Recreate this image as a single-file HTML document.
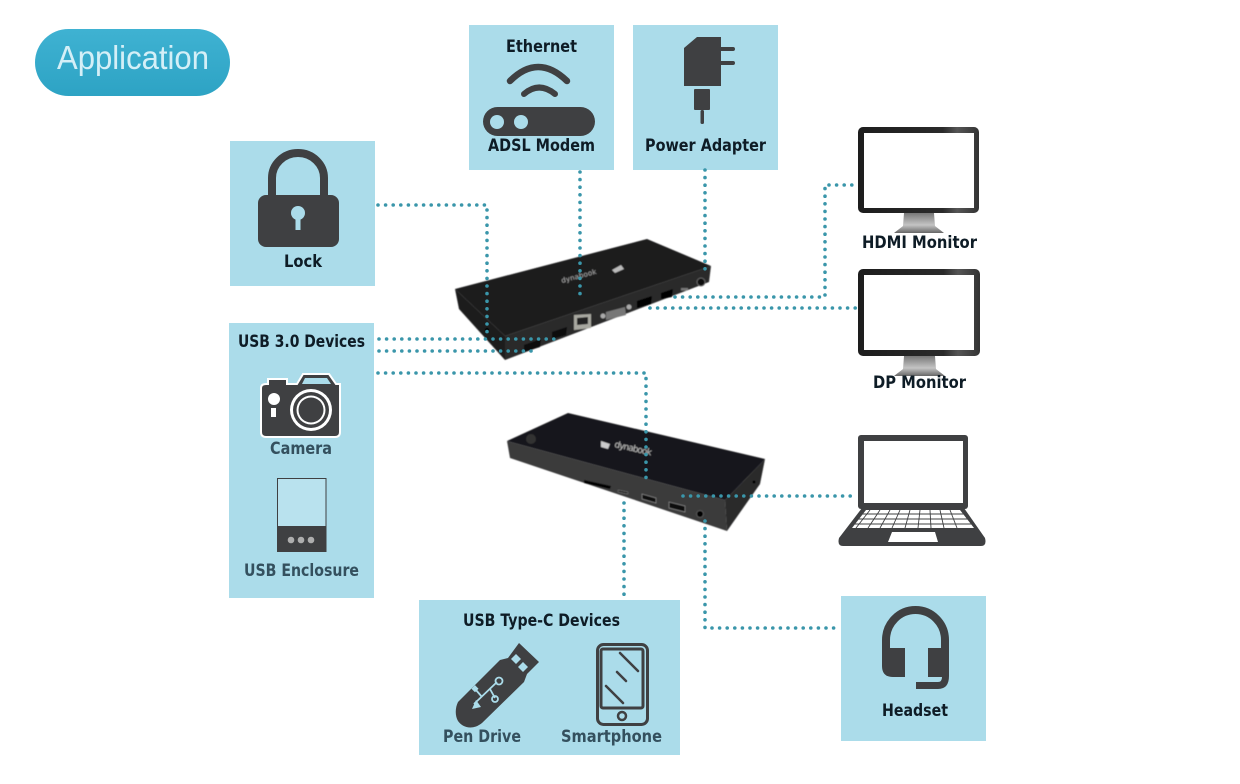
<!DOCTYPE html>
<html><head><meta charset="utf-8"><style>
html,body{margin:0;padding:0;background:#fff}
svg{display:block}
text{font-family:"DejaVu Sans","Liberation Sans",sans-serif;font-weight:bold;font-size:16.5px;fill:#0e1c26}
.g{fill:#34505e}
.d{fill:none;stroke:#3a96aa;stroke-width:3.6;stroke-linecap:round;stroke-dasharray:0 7.6}
.i{fill:#3f4042}
</style></head><body>
<svg width="1240" height="784" viewBox="0 0 1240 784" xmlns="http://www.w3.org/2000/svg">
<defs>
<linearGradient id="pill" x1="0" y1="0" x2="0" y2="1"><stop offset="0" stop-color="#3fb2d2"/><stop offset="1" stop-color="#2da3c4"/></linearGradient>
<linearGradient id="st" x1="0" y1="0" x2="0" y2="1"><stop offset="0" stop-color="#777"/><stop offset=".6" stop-color="#c4c4c4"/><stop offset="1" stop-color="#666"/></linearGradient>
<linearGradient id="bz" x1="0" y1="0" x2="1" y2="0"><stop offset="0" stop-color="#1d1d1d"/><stop offset=".7" stop-color="#2a2a2a"/><stop offset=".82" stop-color="#555"/><stop offset="1" stop-color="#333"/></linearGradient>
<filter id="b"><feGaussianBlur stdDeviation=".6"/></filter>
</defs>

<rect x="35" y="29" width="195" height="67" rx="33.500" fill="url(#pill)"/>
<text x="57" y="69" textLength="152" lengthAdjust="spacingAndGlyphs" style="font-family:'Liberation Sans',sans-serif;font-weight:normal;font-size:33px;fill:#d4eff7">Application</text>

<g fill="#abdcea">
<rect x="230" y="141" width="145" height="145"/>
<rect x="229" y="323" width="145" height="275"/>
<rect x="469" y="25" width="145" height="145"/>
<rect x="633" y="25" width="145" height="145"/>
<rect x="419" y="600" width="261" height="155"/>
<rect x="841" y="596" width="145" height="145"/>
</g>

<!-- Dock 1 -->
<g filter="url(#b)">
<polygon points="455,289 647,239 711,266 505,336" fill="#1a1a1b"/>
<polygon points="455,289 505,336 505,360 459,309" fill="#1d1d1e"/>
<polygon points="505,336 711,266 709,282 505,360" fill="#2a2a2b"/>
<polygon points="524,345 541,339 540,347 524,352" fill="#070707"/>
<polygon points="552,332 567,327 566,335 552,339" fill="#070707"/>
<polygon points="574,315 591,314 591,328 574,330" fill="#a8a8a0"/>
<polygon points="577,318 588,317 588,324 577,325" fill="#222"/>
<polygon points="606,312 625,307 626,315 606,320" fill="#777"/>
<circle cx="603" cy="316" r="2.500" fill="#aaa"/><circle cx="629" cy="307" r="2.500" fill="#aaa"/>
<polygon points="637,301 652,296 651,304 637,308" fill="#050505"/>
<polygon points="661,293 673,289 672,297 661,299" fill="#050505"/>
<rect x="681" y="288" width="7" height="2.500" fill="#777"/>
<circle cx="701" cy="282" r="4" fill="#0c0c0c" stroke="#666"/>
<text x="562" y="283" transform="rotate(-15 562 283)" style="font-size:7px;font-weight:normal;fill:#aaa" textLength="36">dynabook</text>
<polygon points="612,270 621,265 624,269 615,273" fill="#bbb"/>
<circle cx="487" cy="330" r="2" fill="#000"/>
</g>

<!-- Dock 2 -->
<g filter="url(#b)">
<polygon points="507,441 568,413 765,459 725,500" fill="#19191a"/>
<polygon points="507,441 725,500 727,531 510,458" fill="#3a3a3b"/>
<polygon points="725,500 765,459 760,484 727,531" fill="#29292a"/>
<circle cx="531" cy="439" r="5" fill="#333"/>
<polygon points="584,480 611,486 610,489 584,483" fill="#050505"/>
<polygon points="618,490 628,492 628,494 618,492" fill="#0a0a0a" stroke="#888" stroke-width=".5"/>
<polygon points="642,494 656,498 656,503 642,499" fill="#0a0a0a" stroke="#999" stroke-width=".6"/>
<polygon points="669,502 685,506 685,512 669,508" fill="#0a0a0a" stroke="#999" stroke-width=".6"/>
<circle cx="700" cy="514" r="3.500" fill="#050505" stroke="#555"/>
<circle cx="754" cy="482" r="1.500" fill="#000"/>
<polygon points="601,441 610,444 608,449 601,447" fill="#ccc"/>
<text x="614" y="447" transform="rotate(13 614 447)" style="font-size:9px;font-weight:normal;fill:#bbb" textLength="38">dynabook</text>
</g>

<!-- Connectors -->
<path class="d" d="M378,205H487V332"/>
<path class="d" d="M580,172V299"/>
<path class="d" d="M705,170V274"/>
<path class="d" d="M675,297H825V185H858"/>
<path class="d" d="M650,308H858"/>
<path class="d" d="M379,339H557"/>
<path class="d" d="M379,351H531"/>
<path class="d" d="M378,373H646V478"/>
<path class="d" d="M683,496H855"/>
<path class="d" d="M624,503V600"/>
<path class="d" d="M705,521V628H840"/>

<!-- Ethernet -->
<text x="506" y="52" textLength="71" lengthAdjust="spacingAndGlyphs">Ethernet</text>
<path d="M510,81Q538,53 567,81" fill="none" stroke="#3f4042" stroke-width="6.500" stroke-linecap="round"/>
<path d="M524,94Q539,81 555,94" fill="none" stroke="#3f4042" stroke-width="6" stroke-linecap="round"/>
<rect x="483" y="107" width="112" height="29" rx="14.500" class="i"/>
<circle cx="497" cy="122" r="7" fill="#abdcea"/><circle cx="521" cy="122" r="7" fill="#abdcea"/>
<text x="488" y="151" textLength="107" lengthAdjust="spacingAndGlyphs">ADSL Modem</text>

<!-- Power -->
<polygon class="i" points="697,37 721,37 721,86 684,86 684,48"/>
<path d="M721,49H733M721,63H733" stroke="#3f4042" stroke-width="4" stroke-linecap="round"/>
<rect x="694" y="89" width="16" height="21" rx="1" class="i"/>
<rect x="700.500" y="110" width="3.500" height="14" rx="1.500" class="i"/>
<text x="645" y="151" textLength="121" lengthAdjust="spacingAndGlyphs">Power Adapter</text>

<!-- Lock -->
<path d="M272,200V178a26,25 0 0 1 52,0V200" fill="none" stroke="#3f4042" stroke-width="8"/>
<rect x="258" y="195" width="81" height="52" rx="8" class="i"/>
<circle cx="298" cy="213" r="7" fill="#abdcea"/>
<rect x="295.500" y="215" width="5" height="15" fill="#abdcea"/>
<text x="284" y="267" textLength="38" lengthAdjust="spacingAndGlyphs">Lock</text>

<!-- USB 3.0 -->
<text x="238" y="347" textLength="127" lengthAdjust="spacingAndGlyphs">USB 3.0 Devices</text>
<path d="M297,384L303,374H329L336,384H340V432Q340,437 335,437H266Q261,437 261,432V388Q261,384 266,384H268V379H287V384Z" class="i" stroke="#fff" stroke-width="2"/>
<polygon points="305,378 327,378 331,384 302,384" fill="#abdcea"/>
<circle cx="311" cy="410" r="21" fill="#fff"/><circle cx="311" cy="410" r="18" class="i"/><circle cx="311" cy="410" r="14.500" fill="#fff"/><circle cx="311" cy="410" r="12.500" class="i"/>
<circle cx="274" cy="399" r="6" fill="#fff"/>
<rect x="271" y="408" width="5" height="9" fill="#fff"/>
<text x="270" y="454" class="g" textLength="62" lengthAdjust="spacingAndGlyphs">Camera</text>
<rect x="277.500" y="478.500" width="48.500" height="73" fill="#b9e2ee" stroke="#3f4042"/>
<rect x="277" y="526" width="49.500" height="26" class="i"/>
<g fill="#aeaeae"><circle cx="291" cy="540" r="3.300"/><circle cx="301" cy="540" r="3.300"/><circle cx="311" cy="540" r="3.300"/></g>
<text x="244" y="576" class="g" textLength="115" lengthAdjust="spacingAndGlyphs">USB Enclosure</text>

<!-- USB-C -->
<text x="463" y="626" textLength="157" lengthAdjust="spacingAndGlyphs">USB Type-C Devices</text>
<path class="i" d="M458,702L500,660L508,658L519,643L539,662L527,674L524,682L482,723C472,731 462,727 458,721C455,716 455,708 458,702Z"/>
<g fill="#abdcea"><polygon points="516,654 521,659 516,664 511,659"/><polygon points="523,662 528,667 523,672 518,667"/></g>
<path d="M474,704L497,682M482,697L476,690M490,689L495,698" stroke="#abdcea" stroke-width="1.800" fill="none"/>
<polygon points="472,709 481,707 476,700" fill="#abdcea"/>
<circle cx="499" cy="681" r="3.500" fill="none" stroke="#abdcea" stroke-width="1.800"/>
<circle cx="495" cy="699" r="3" fill="none" stroke="#abdcea" stroke-width="1.800"/>
<rect x="473" y="686" width="5" height="5" fill="#abdcea" transform="rotate(45 475 688)"/>
<rect x="597.500" y="644.500" width="50" height="80" rx="6" fill="none" stroke="#3f4042" stroke-width="3"/>
<rect x="601" y="649" width="42" height="59" rx="2" fill="none" stroke="#3f4042" stroke-width="3"/>
<circle cx="622" cy="716" r="4" fill="none" stroke="#3f4042" stroke-width="2.500"/>
<path d="M620,653L638,671M617,672L626,681M606,686L623,703" stroke="#3f4042" stroke-width="2.500" stroke-linecap="round"/>
<text x="443" y="742" class="g" textLength="78" lengthAdjust="spacingAndGlyphs">Pen Drive</text>
<text x="561" y="742" class="g" textLength="101" lengthAdjust="spacingAndGlyphs">Smartphone</text>

<!-- Monitors -->
<polygon points="904,213 934,213 935,226 944,233 894,233 903,226" fill="url(#st)"/>
<rect x="858" y="127" width="121" height="86" rx="5" fill="url(#bz)"/>
<rect x="864" y="133" width="110" height="75" fill="#fff"/>
<text x="862" y="248" textLength="115" lengthAdjust="spacingAndGlyphs">HDMI Monitor</text>
<polygon points="904,356 935,356 936,369 945,376 894,376 903,369" fill="url(#st)"/>
<rect x="858" y="269" width="122" height="87" rx="5" fill="url(#bz)"/>
<rect x="864" y="275" width="110" height="75" fill="#fff"/>
<text x="873" y="388" textLength="93" lengthAdjust="spacingAndGlyphs">DP Monitor</text>

<!-- Laptop -->
<rect x="858" y="435" width="110" height="74" rx="3" class="i"/>
<rect x="864" y="441" width="99" height="62" fill="#fff"/>
<path class="i" d="M862,508H964L985,538Q987,546 981,546H843Q837,546 839,538Z"/>
<polygon points="866,510 960,510 974,528 852,528" fill="#fff"/>
<path d="M860,514H966M856,519H970M853,524H973" stroke="#3f4042" stroke-width=".9"/>
<path d="M870,510L856,528M880,510L868,528M890,510L880,528M900,510L892,528M910,510L905,528M920,510L918,528M930,510L931,528M940,510L944,528M950,510L957,528" stroke="#3f4042" stroke-width=".9"/>
<polygon points="892,532 935,532 938,542 888,542" fill="#fff"/>

<!-- Headset -->
<path d="M886,655V640a29.500,30 0 0 1 59,0V655" fill="none" stroke="#3f4042" stroke-width="8"/>
<path class="i" d="M882,648H905V677H893Q882,677 882,666Z"/>
<path class="i" d="M928,648H949V676Q949,689 938,689H916V682H938Q942,682 942,677H928Z"/>
<text x="882" y="716" textLength="66" lengthAdjust="spacingAndGlyphs">Headset</text>
</svg>
</body></html>
